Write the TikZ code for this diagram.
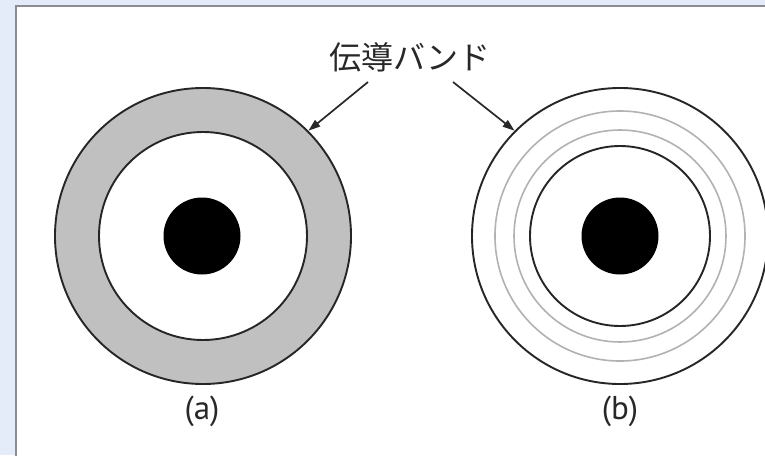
\documentclass[tikz,border=0pt]{standalone}
\usepackage{fontspec}
\setmainfont{PT Sans}
\newfontfamily\cjk{Noto Sans CJK JP}
\usetikzlibrary{arrows.meta}
\definecolor{bgblue}{RGB}{228,236,249}
\definecolor{panelline}{RGB}{140,140,145}
\definecolor{ringgray}{RGB}{192,192,192}
\definecolor{thinring}{RGB}{178,178,178}
\definecolor{txt}{RGB}{40,40,40}
\tikzset{
  disk/.style={circle, draw=black!85, line width=1.9pt, inner sep=0pt, outer sep=0pt, minimum size=#1},
  band/.style={circle, draw=thinring, line width=1.6pt, inner sep=0pt, minimum size=#1},
  core/.style={circle, fill=black, inner sep=0pt, minimum size=77pt},
  arr/.style={line width=1.7pt, draw=txt, -{Triangle[length=12pt,width=8pt]}, shorten >=1pt},
  caption/.style={font=\fontsize{33}{38}\selectfont, text=txt, inner sep=0pt},
}
\begin{document}
\begin{tikzpicture}[x=1pt,y=-1pt]
\useasboundingbox (0,0) rectangle (765,455);
\fill[bgblue] (0,0) rectangle (765,455);
\draw[panelline, line width=2pt, fill=white] (16,6) rectangle (790,480);

% (a)
\node[disk=296pt, fill=ringgray] (aout) at (203,236) {};
\node[disk=208pt, fill=white] (ain) at (203,236) {};
\node[core] (acore) at (202,236) {};
\node[caption] (acap) at (202,411) {(a)};

% (b)
\node[disk=296pt, fill=white] (bout) at (620,236) {};
\node[band=250pt] (bband1) at (620,236) {};
\node[band=212pt] (bband2) at (620,236) {};
\node[disk=180pt] (bin) at (620,236) {};
\node[core] (bcore) at (620,236) {};
\node[caption] (bcap) at (620,411) {(b)};

% label and arrows
\node[font=\cjk\fontsize{32}{35}\selectfont, text=txt, inner sep=0pt] (lbl) at (410,57) {伝導バンド};
\coordinate (la) at (368,82);
\coordinate (lb) at (453,82);
\draw[arr] (la) -- (aout.45);
\draw[arr] (lb) -- (bout.135);
\end{tikzpicture}
\end{document}
